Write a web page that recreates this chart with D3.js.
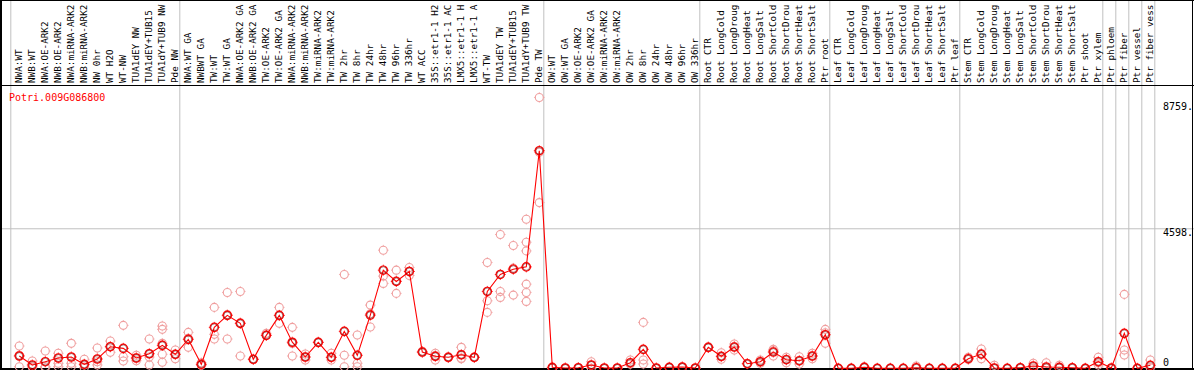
<!DOCTYPE html>
<html>
<head>
<meta charset="utf-8">
<script src="https://cdn.jsdelivr.net/npm/d3@7"></script>
<style>
  body { margin: 0; background: #fff; }
  text { font-family: "DejaVu Sans Mono", monospace; }
</style>
</head>
<body>
<div id="chart"></div>
<script>
var svgWidth = 1194;
var svgHeight = 370;

var geneName = "Potri.009G086800";

// sample names, as shown (cut at 14 chars)
var samples = [
  "NWA:WT", "NWB:WT", "NWA:OE-ARK2", "NWB:OE-ARK2", "NWA:miRNA-ARK2", "NWB:miRNA-ARK2",
  "NW 0hr", "WT H2O", "WT-NW", "TUA1dEY NW", "TUA1dEY+TUB15", "TUA1dY+TUB9 NW", "Pde NW",
  "NWA:WT GA", "NWBWT GA", "TW:WT", "TW:WT GA", "NWA:OE-ARK2 GA", "NWB:OE-ARK2 GA",
  "TW:OE-ARK2", "TW:OE-ARK2 GA", "NWA:miRNA-ARK2", "NWB:miRNA-ARK2", "TW:miRNA-ARK2",
  "TW:miRNA-ARK2", "TW 2hr", "TW 8hr", "TW 24hr", "TW 48hr", "TW 96hr", "TW 336hr",
  "WT ACC", "35S::etr1-1 H2", "35S::etr1-1 AC", "LMX5::etr1-1 H", "LMX5::etr1-1 A",
  "WT-TW", "TUA1dEY TW", "TUA1dEY+TUB15", "TUA1dY+TUB9 TW", "Pde TW",
  "OW:WT", "OW:WT GA", "OW:OE-ARK2", "OW:OE-ARK2 GA", "OW:miRNA-ARK2", "OW:miRNA-ARK2",
  "OW 2hr", "OW 8hr", "OW 24hr", "OW 48hr", "OW 96hr", "OW 336hr",
  "Root CTR", "Root LongCold", "Root LongDroug", "Root LongHeat", "Root LongSalt",
  "Root ShortCold", "Root ShortDrou", "Root ShortHeat", "Root ShortSalt", "Ptr root",
  "Leaf CTR", "Leaf LongCold", "Leaf LongDroug", "Leaf LongHeat", "Leaf LongSalt",
  "Leaf ShortCold", "Leaf ShortDrou", "Leaf ShortHeat", "Leaf ShortSalt", "Ptr leaf",
  "Stem CTR", "Stem LongCold", "Stem LongDroug", "Stem LongHeat", "Stem LongSalt",
  "Stem ShortCold", "Stem ShortDrou", "Stem ShortHeat", "Stem ShortSalt", "Ptr shoot",
  "Ptr xylem", "Ptr phloem", "Ptr fiber", "Ptr vessel", "Ptr fiber vess"
];

// first sample index of each group (vertical separators)
var groupStarts = [0, 13, 41, 53, 63, 73, 84, 85, 86, 87, 88];

// mean expression per sample
var means = [
  405, 109, 217, 339, 372, 132, 306, 711, 658, 339, 480, 757, 461,
  954, 132, 1349, 1744, 1480, 296, 1086, 1744, 859, 372, 855, 362, 1217, 428, 1753,
  3233, 2862, 3191, 536, 395, 362, 447, 362, 2533, 3092, 3266, 3342, 7170,
  33, 10, 20, 109, 10, 10, 184, 625, 10, 33, 43, 10,
  691, 395, 701, 151, 217, 536, 283, 250, 405, 1105,
  0, 0, 33, 0, 0, 0, 20, 0, 0, 0,
  316, 470, 10, 0, 20, 76, 43, 33, 20, 0, 217,
  10, 1151, 0, 99
];

// replicate values per sample
var replicates = [
  [734, 53, 430], [240, 43, 45], [569, 60, 20], [494, 165, 53], [823, 165, 53], [296, 109, 20],
  [668, 217, 109], [898, 526, 710], [1415, 382, 240], [428, 250, 340], [964, 109, 370],
  [1392, 1283, 823, 461, 197], [602, 316, 460],
  [1184, 691, 990], [184, 109, 100], [2007, 1119, 964], [2500, 964, 1770], [2533, 405, 1500],
  [296, 300], [1152, 1090], [2007, 1481, 1745], [1349, 405, 820], [470, 273, 370], [865, 850],
  [494, 273, 360], [3093, 428, 53], [1096, 165, 53], [2083, 1359, 1800],
  [3892, 3037, 2797], [3234, 2468, 2880], [3323, 3191, 3060], [559, 520], [494, 273, 420],
  [382, 350], [691, 316, 335], [362, 360], [3487, 2224, 1842], [4409, 2533, 2336],
  [4047, 2412, 3300], [4912, 4155, 3869, 2773, 2500, 2204], [8926, 5461, 7120],
  [0, 0], [0, 0], [0, 20], [217, 0, 100], [0, 0], [0, 0], [273, 141, 140], [1513, 273, 141],
  [0, 0], [30, 20], [40, 30], [0, 0],
  [711, 680], [513, 296, 380], [800, 711, 600], [151, 150], [273, 165, 210], [625, 405, 580],
  [362, 184, 300], [382, 141, 230], [494, 316, 405], [1283, 1171, 823],
  [0, 0], [0, 0], [53, 30], [0, 0], [0, 0], [0, 0], [76, 0], [0, 0], [0, 0], [0, 0],
  [362, 290], [635, 316, 460], [99, 0], [0, 0], [20, 10], [165, 0], [184, 0], [99, 0],
  [20, 10], [0, 0], [362, 109, 180],
  [0, 0], [2435, 602, 438], [0, 0], [273, 20]
];

var yTicks = [8759, 4598, 0];

var plotTop = 85;
var plotBottom = 369;

var svg = d3.select("#chart")
  .append("svg")
  .attr("width", svgWidth)
  .attr("height", svgHeight);

var idx = d3.range(samples.length);

var xScale = d3.scaleBand()
  .domain(idx)
  .range([10.8, 1154.8]);

// point sits a bit right of the cell middle, like the original
var px = i => xScale(i) + 8.5;

var yScale = d3.scaleLinear()
  .domain([0, 8759])
  .range([368.3, 102.5]);

// horizontal grid at 4598
svg.append("line")
  .attr("x1", 0).attr("x2", svgWidth)
  .attr("y1", yScale(4598)).attr("y2", yScale(4598))
  .attr("stroke", "#c0c0c0");

// group separators
svg.selectAll(".sep")
  .data(groupStarts)
  .enter()
  .append("line")
  .attr("class", "sep")
  .attr("x1", d => xScale(d) === undefined ? 1154.8 : xScale(d))
  .attr("x2", d => xScale(d) === undefined ? 1154.8 : xScale(d))
  .attr("y1", 0).attr("y2", plotBottom)
  .attr("stroke", "#c0c0c0");

// frame
svg.append("line").attr("x1", 0).attr("x2", svgWidth).attr("y1", 0.5).attr("y2", 0.5).attr("stroke", "#000");
svg.append("line").attr("x1", 0).attr("x2", svgWidth).attr("y1", plotTop + 0.5).attr("y2", plotTop + 0.5).attr("stroke", "#000");
svg.append("line").attr("x1", 0).attr("x2", svgWidth).attr("y1", plotBottom).attr("y2", plotBottom).attr("stroke", "#000").attr("stroke-width", 2);
svg.append("line").attr("x1", 1).attr("x2", 1).attr("y1", 0).attr("y2", svgHeight).attr("stroke", "#000").attr("stroke-width", 2);
svg.append("line").attr("x1", 1192.5).attr("x2", 1192.5).attr("y1", 0).attr("y2", svgHeight).attr("stroke", "#000");

// sample labels, rotated
svg.selectAll(".sampleText")
  .data(idx)
  .enter()
  .append("text")
  .attr("class", "sampleText")
  .attr("transform", d => `translate(${px(d) + 2.6}, 83)rotate(-90)`)
  .attr("font-size", 9.3)
  .style("fill", "black")
  .text(d => samples[d]);

// y labels
svg.selectAll(".yText")
  .data(yTicks)
  .enter()
  .append("text")
  .attr("class", "yText")
  .attr("x", 1163)
  .attr("y", d => d === 0 ? yScale(d) - 2.5 : yScale(d) + 7.6)
  .attr("font-size", 10)
  .style("fill", "black")
  .text(d => d === 0 ? "0" : d + ".");

// title
svg.append("text")
  .attr("x", 9)
  .attr("y", 101)
  .attr("font-size", 10)
  .style("fill", "#ff0000")
  .text(geneName);

function marker(g, color, width, r) {
  g.append("circle")
    .attr("r", r)
    .attr("fill", "none")
    .attr("stroke", color)
    .attr("stroke-width", width);
  // small ticks around the ring
  [[0, -1], [0, 1], [-1, 0], [1, 0]].forEach(function(t) {
    g.append("line")
      .attr("x1", t[0] * r).attr("y1", t[1] * r)
      .attr("x2", t[0] * (r + 1.3)).attr("y2", t[1] * (r + 1.3))
      .attr("stroke", color)
      .attr("stroke-width", 0.8);
  });
}

// replicates
var repData = [];
replicates.forEach(function(arr, i) {
  arr.forEach(function(v) { repData.push({i: i, v: v}); });
});

svg.selectAll(".rep")
  .data(repData)
  .enter()
  .append("g")
  .attr("class", "rep")
  .attr("transform", d => `translate(${px(d.i)}, ${yScale(d.v)})`)
  .each(function() { marker(d3.select(this), "#f0a0a0", 1.1, 4); });

// mean line
var line = d3.line()
  .x((d, i) => px(i))
  .y(d => yScale(d));

svg.append("path")
  .datum(means)
  .attr("d", line)
  .attr("fill", "none")
  .attr("stroke", "#ff0000")
  .attr("stroke-width", 1.1);

// mean markers
var meanGroup = svg.selectAll(".mean")
  .data(idx)
  .enter()
  .append("g")
  .attr("class", "mean")
  .attr("transform", d => `translate(${px(d)}, ${yScale(means[d])})`)
  .each(function() {
    var g = d3.select(this);
    marker(g, "#ff0000", 1.2, 4.2);
    g.append("circle")
      .attr("r", 3.4)
      .attr("fill", "none")
      .attr("stroke", "#600000")
      .attr("stroke-width", 0.5);
  });
</script>
</body>
</html>
